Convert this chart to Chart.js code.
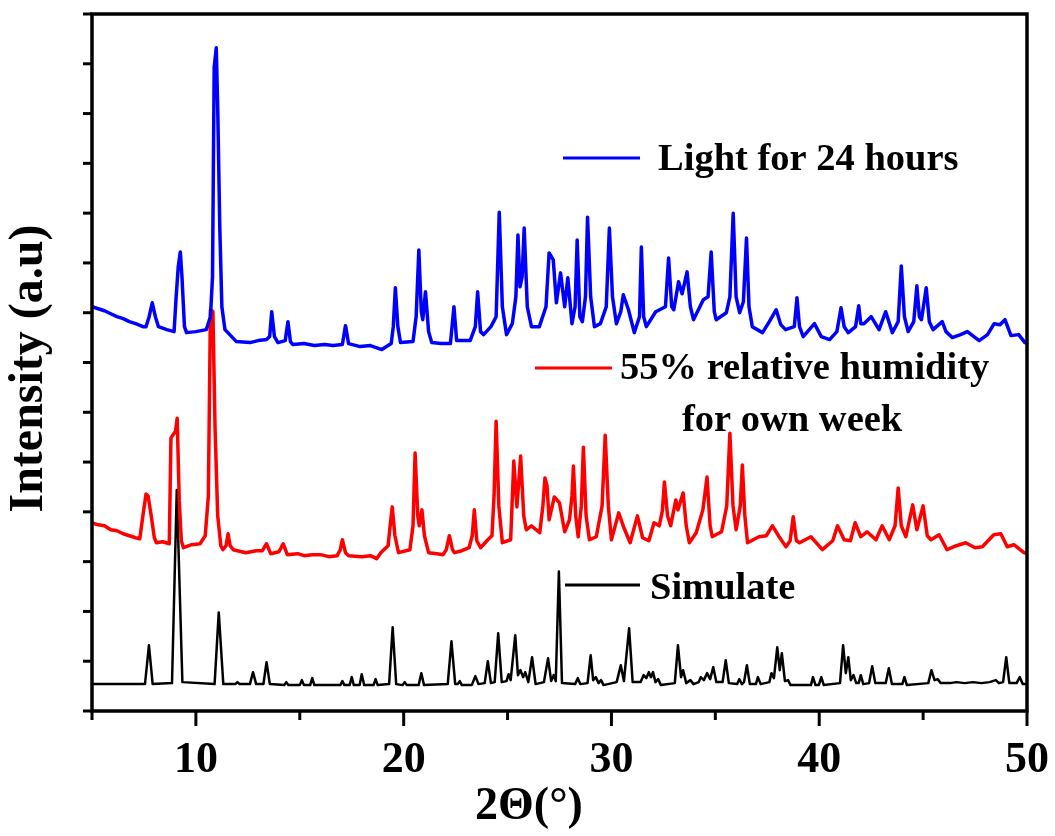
<!DOCTYPE html>
<html>
<head>
<meta charset="utf-8">
<script src="https://cdn.jsdelivr.net/npm/chart.js@4/dist/chart.umd.min.js"></script>
<style>
  html, body { margin: 0; padding: 0; background: #fff; }
  #wrap { width: 1055px; height: 836px; }
</style>
</head>
<body>
<div id="wrap"><canvas id="xrd"></canvas></div>
<script>
(function () {
    'use strict';

    // x range and tick marks (2-theta, degrees)
    const xRange = [5, 50];
    const xTickLabels = [10, 20, 30, 40, 50];

    // Simulated pattern (black), offset 0
    const simX = [5, 7.55, 7.74, 7.92, 8.85, 9.08, 9.35, 10.9, 11.1, 11.32, 11.9, 12.0, 12.1, 12.6, 12.75, 12.9,
        13.25, 13.4, 13.56, 14.25, 14.35, 14.45, 15.0, 15.1, 15.2, 15.5, 15.6, 15.7, 16.95, 17.05, 17.15,
        17.4, 17.5, 17.6, 17.88, 17.98, 18.1, 18.55, 18.65, 18.75, 19.3, 19.47, 19.64, 19.95, 20.05, 20.15,
        20.72, 20.85, 20.98, 22.12, 22.3, 22.48, 22.6, 22.7, 22.8, 23.28, 23.45, 23.6, 23.9, 24.05, 24.2,
        24.38, 24.55, 24.72, 24.95, 25.05, 25.15, 25.37, 25.5, 25.62, 25.75, 25.85, 26.0, 26.18, 26.35,
        26.75, 26.95, 27.1, 27.22, 27.32, 27.47, 27.62, 28.25, 28.38, 28.5, 28.85, 29.0, 29.12, 29.25,
        29.38, 29.5, 29.62, 30.25, 30.45, 30.6, 30.85, 31.02, 31.4, 31.55, 31.68, 31.8, 31.9, 32.0, 32.12,
        32.25, 32.38, 33.05, 33.2, 33.35, 33.45, 33.6, 33.8, 33.95, 34.2, 34.3, 34.45, 34.6, 34.75, 34.9,
        35.05, 35.35, 35.5, 35.65, 36.05, 36.15, 36.28, 36.38, 36.52, 36.66, 36.95, 37.05, 37.18, 37.6,
        37.7, 37.82, 37.98, 38.1, 38.2, 38.35, 38.5, 38.62, 39.6, 39.7, 39.82, 39.98, 40.1, 40.22, 41.0,
        41.15, 41.28, 41.4, 41.52, 41.65, 41.78, 41.9, 42.0, 42.12, 42.4, 42.55, 42.7, 43.2, 43.35, 43.5,
        44.0, 44.1, 44.22, 45.25, 45.4, 45.55, 45.7, 45.85, 46.3, 46.6, 47.0, 47.4, 47.8, 48.2, 48.5,
        48.65, 48.85, 49.0, 49.15, 49.5, 49.65, 49.8, 50];
    const simY = [0.01, 0.01, 0.4, 0.01, 0.02, 1.96, 0.03, 0.01, 0.73, 0.01, 0.01, 0.03, 0.01, 0.01, 0.13, 0.01,
        0.01, 0.23, 0.01, 0, 0.03, 0, 0, 0.05, 0, 0, 0.07, 0, 0, 0.04, 0,
        0, 0.08, 0, 0, 0.11, 0, 0, 0.06, 0, 0.01, 0.58, 0.01, 0, 0.03, 0,
        0, 0.12, 0, 0.01, 0.44, 0.01, 0.01, 0.04, 0, 0, 0.09, 0.01, 0.02, 0.24, 0.02,
        0.03, 0.52, 0.03, 0.04, 0.11, 0.05, 0.5, 0.1, 0.15, 0.08, 0.13, 0.03, 0.28, 0.01,
        0.03, 0.27, 0.04, 0.1, 0.04, 1.14, 0.02, 0.01, 0.07, 0.01, 0.02, 0.3, 0.05, 0.08,
        0.02, 0.05, 0, 0.03, 0.2, 0.04, 0.57, 0.03, 0.03, 0.1, 0.07, 0.13, 0.08, 0.13, 0.03,
        0.06, 0, 0.02, 0.4, 0.08, 0.15, 0.02, 0.05, 0.01, 0.03, 0.08, 0.05, 0.12, 0.06, 0.18,
        0.03, 0.03, 0.25, 0.02, 0.01, 0.06, 0.01, 0.03, 0.2, 0.01, 0.01, 0.08, 0.01, 0.03,
        0.12, 0.07, 0.38, 0.15, 0.32, 0.04, 0.05, 0, 0, 0.08, 0, 0, 0.08, 0, 0.02,
        0.4, 0.12, 0.28, 0.05, 0.1, 0.02, 0.02, 0.1, 0.01, 0.02, 0.19, 0.02, 0.02, 0.17, 0.01,
        0.01, 0.08, 0, 0.02, 0.15, 0.05, 0.06, 0.02, 0.02, 0.03, 0.02, 0.03, 0.02, 0.03, 0.05,
        0.02, 0.03, 0.28, 0.02, 0.02, 0.08, 0.01, 0.01];

    // 55% relative humidity for one week (red)
    const humX = [5, 5.3, 5.6, 5.9, 6.2, 6.5, 6.8, 7.1, 7.3, 7.45, 7.6, 7.7, 7.85, 8.0, 8.1, 8.4, 8.72, 8.8,
        8.92, 9.02, 9.1, 9.2, 9.3, 9.4, 9.8, 10.2, 10.45, 10.6, 10.7, 10.82, 10.92, 11.05, 11.2, 11.3,
        11.45, 11.55, 11.65, 11.8, 12.4, 12.9, 13.2, 13.4, 13.6, 14.0, 14.2, 14.4, 14.9, 15.2, 15.6, 16.0,
        16.4, 16.8, 16.95, 17.05, 17.2, 17.35, 18.0, 18.4, 18.7, 18.9, 19.25, 19.35, 19.45, 19.58, 19.75,
        20.3, 20.45, 20.55, 20.68, 20.75, 20.88, 21.0, 21.2, 21.6, 21.9, 22.05, 22.2, 22.35, 22.45, 22.8,
        23.15, 23.3, 23.4, 23.52, 23.7, 24.05, 24.25, 24.35, 24.45, 24.58, 24.75, 25.15, 25.3, 25.45,
        25.63, 25.78, 25.9, 26.15, 26.55, 26.7, 26.8, 26.9, 27.0, 27.25, 27.5, 27.75, 27.98, 28.1, 28.17,
        28.28, 28.4, 28.55, 28.65, 28.78, 28.94, 29.27, 29.55, 29.7, 29.85, 30.0, 30.35, 30.6, 30.9,
        31.25, 31.5, 31.8, 32.05, 32.3, 32.45, 32.55, 32.7, 32.85, 33.1, 33.2, 33.45, 33.6, 33.75, 34.08,
        34.4, 34.6, 34.75, 34.85, 35.3, 35.55, 35.7, 35.85, 36.0, 36.2, 36.3, 36.42, 36.55, 37.1, 37.45,
        37.75, 38.07, 38.4, 38.6, 38.75, 38.9, 39.05, 39.6, 40.15, 40.65, 40.88, 41.2, 41.5, 41.73, 42.0,
        42.3, 42.73, 43.03, 43.37, 43.65, 43.8, 43.95, 44.17, 44.5, 44.7, 45.0, 45.2, 45.38, 45.77, 46.15,
        46.6, 47.05, 47.5, 47.85, 48.4, 48.74, 49.05, 49.37, 49.85, 50];
    const humY = [1.63, 1.61, 1.6, 1.56, 1.55, 1.52, 1.5, 1.48, 1.47, 1.7, 1.92, 1.9, 1.7, 1.48, 1.43, 1.44, 1.42, 2.48,
        2.52, 2.55, 2.68, 1.85, 1.45, 1.38, 1.41, 1.42, 1.5, 1.9, 3.77, 3.75, 2.6, 1.7, 1.4, 1.36,
        1.4, 1.52, 1.4, 1.36, 1.33, 1.35, 1.35, 1.42, 1.32, 1.34, 1.42, 1.31, 1.32, 1.3, 1.31, 1.31,
        1.29, 1.3, 1.36, 1.46, 1.33, 1.3, 1.29, 1.3, 1.27, 1.33, 1.4, 1.6, 1.79, 1.5, 1.33,
        1.36, 1.6, 2.33, 1.7, 1.6, 1.76, 1.5, 1.33, 1.32, 1.31, 1.36, 1.5, 1.36, 1.33, 1.35,
        1.38, 1.5, 1.76, 1.45, 1.38, 1.46, 1.5, 1.9, 2.65, 1.8, 1.43, 1.46, 2.25, 1.79,
        2.3, 1.7, 1.56, 1.6, 1.53, 1.8, 2.08, 2.0, 1.66, 1.89, 1.83, 1.54, 1.66, 1.9, 2.2,
        1.7, 1.49, 1.8, 2.39, 1.7, 1.46, 1.49, 1.8, 2.51, 1.8, 1.46, 1.73, 1.58, 1.43,
        1.7, 1.48, 1.45, 1.63, 1.6, 1.75, 2.04, 1.7, 1.6, 1.86, 1.76, 1.93, 1.6, 1.43, 1.53,
        1.76, 2.09, 1.6, 1.49, 1.54, 1.8, 2.53, 1.8, 1.56, 1.8, 2.21, 1.7, 1.43, 1.49, 1.5,
        1.6, 1.49, 1.39, 1.45, 1.69, 1.45, 1.43, 1.49, 1.36, 1.45, 1.6, 1.46, 1.45, 1.63, 1.49,
        1.54, 1.46, 1.6, 1.46, 1.6, 1.98, 1.6, 1.49, 1.81, 1.56, 1.8, 1.5, 1.46, 1.51, 1.36,
        1.4, 1.43, 1.38, 1.39, 1.51, 1.52, 1.39, 1.41, 1.33, 1.32];

    // Light for 24 hours (blue)
    const lightX = [5, 5.3, 5.6, 5.9, 6.2, 6.5, 6.8, 7.1, 7.45, 7.6, 7.75, 7.9, 8.05, 8.2, 8.6, 8.95, 9.05, 9.15,
        9.25, 9.33, 9.45, 9.55, 10.0, 10.5, 10.7, 10.8, 10.88, 10.98, 11.05, 11.15, 11.25, 11.4, 11.95,
        12.6, 13.0, 13.4, 13.55, 13.65, 13.78, 13.95, 14.3, 14.43, 14.55, 14.67, 15.2, 15.7, 16.2, 16.6,
        17.05, 17.2, 17.35, 17.9, 18.4, 18.95, 19.4, 19.5, 19.6, 19.72, 19.85, 20.45, 20.6, 20.73, 20.85,
        20.92, 21.05, 21.2, 21.35, 21.8, 22.25, 22.42, 22.55, 23.2, 23.45, 23.56, 23.7, 23.85, 24.2, 24.45,
        24.6, 24.75, 24.95, 25.23, 25.4, 25.5, 25.6, 25.7, 25.8, 25.95, 26.15, 26.53, 26.85, 27.0, 27.2,
        27.35, 27.55, 27.75, 27.9, 28.1, 28.25, 28.35, 28.48, 28.6, 28.75, 28.85, 29.0, 29.18, 29.47,
        29.75, 29.9, 30.05, 30.24, 30.45, 30.57, 30.82, 31.1, 31.35, 31.44, 31.55, 31.68, 32.13, 32.32,
        32.6, 32.75, 32.9, 33.0, 33.23, 33.4, 33.64, 33.8, 33.95, 34.42, 34.65, 34.8, 34.95, 35.04, 35.53,
        35.7, 35.86, 36.0, 36.17, 36.35, 36.5, 36.62, 36.78, 37.27, 37.6, 37.93, 38.15, 38.38, 38.8,
        38.93, 39.05, 39.23, 39.77, 40.1, 40.5, 40.85, 41.05, 41.2, 41.4, 41.75, 41.9, 42.0, 42.15, 42.5,
        42.88, 43.2, 43.52, 43.8, 43.95, 44.1, 44.28, 44.55, 44.7, 44.82, 44.92, 45.15, 45.3, 45.48,
        45.92, 46.1, 46.4, 46.8, 47.13, 47.7, 48.1, 48.42, 48.7, 48.94, 49.23, 49.6, 49.9, 50];
    const lightY = [3.8, 3.78, 3.76, 3.73, 3.7, 3.68, 3.65, 3.63, 3.6, 3.6, 3.7, 3.84, 3.7, 3.6, 3.57, 3.55, 3.9, 4.2,
        4.35, 4.1, 3.6, 3.54, 3.55, 3.57, 3.7, 4.1, 6.2, 6.4, 5.8, 4.6, 3.8, 3.57, 3.45,
        3.44, 3.46, 3.47, 3.5, 3.75, 3.5, 3.44, 3.46, 3.65, 3.45, 3.42, 3.43, 3.41, 3.42, 3.41,
        3.42, 3.61, 3.43, 3.4, 3.41, 3.37, 3.43, 3.6, 3.99, 3.6, 3.44, 3.45, 3.7, 4.37, 3.75,
        3.67, 3.95, 3.55, 3.44, 3.43, 3.43, 3.8, 3.46, 3.46, 3.6, 3.95, 3.55, 3.52, 3.6, 3.7,
        4.75, 3.8, 3.52, 3.63, 3.9, 4.52, 4.0, 4.1, 4.59, 3.8, 3.6, 3.6, 3.8, 4.34, 4.27,
        3.84, 4.14, 3.8, 4.09, 3.63, 3.8, 4.47, 3.7, 3.65, 3.9, 4.7, 3.9, 3.6, 3.63,
        3.8, 4.59, 3.9, 3.63, 3.75, 3.92, 3.77, 3.54, 3.7, 4.4, 3.7, 3.6, 3.75, 3.77,
        3.8, 4.29, 3.8, 3.77, 4.05, 3.93, 4.15, 3.8, 3.67, 3.87, 3.9, 4.35, 3.75, 3.67, 3.74,
        3.9, 4.74, 3.9, 3.74, 3.85, 4.49, 3.8, 3.6, 3.54, 3.65, 3.77, 3.62, 3.57, 3.6,
        3.89, 3.6, 3.5, 3.63, 3.5, 3.47, 3.55, 3.79, 3.6, 3.54, 3.6, 3.81, 3.63, 3.63, 3.7,
        3.57, 3.75, 3.54, 3.65, 4.21, 3.7, 3.55, 3.65, 4.01, 3.7, 3.67, 3.99, 3.65, 3.57,
        3.65, 3.55, 3.49, 3.52, 3.55, 3.46, 3.52, 3.63, 3.62, 3.67, 3.51, 3.52, 3.44, 3.44];

    const FONT = "'Times New Roman', 'Liberation Serif', serif";

    function toPoints(xs, ys) {
        return xs.map((x, i) => ({ x: x, y: ys[i] }));
    }

    /**
     * Frame, tick marks, in-plot labels and the x title
     */
    const decorPlugin = {
        id: 'decor',
        afterDatasetsDraw(chart) {
            const ctx = chart.ctx;
            const area = chart.chartArea;
            const xs = chart.scales.x;
            const ys = chart.scales.y;

            ctx.save();
            ctx.strokeStyle = '#000';
            ctx.lineCap = 'butt';

            // ticks on the bottom axis, pointing down
            ctx.lineWidth = 3;
            for (let v = xRange[0]; v <= xRange[1]; v += 5) {
                const px = xs.getPixelForValue(v);
                const len = v % 10 === 0 ? 15 : 9;
                ctx.beginPath();
                ctx.moveTo(px, area.bottom);
                ctx.lineTo(px, area.bottom + len);
                ctx.stroke();
            }
            // ticks on the left axis, pointing left
            ys.ticks.forEach(t => {
                const py = ys.getPixelForValue(t.value);
                const len = Math.abs(t.value % 1) < 1e-6 ? 15 : 9;
                ctx.beginPath();
                ctx.moveTo(area.left, py);
                ctx.lineTo(area.left - len, py);
                ctx.stroke();
            });

            // box
            ctx.lineWidth = 3.5;
            ctx.strokeRect(area.left, area.top, area.right - area.left, area.bottom - area.top);

            // in-plot labels
            const labels = [
                { color: '#0000ff', x0: 563, x1: 640, y: 158, tx: 658, text: 'Light for 24 hours', ty: 160 },
                { color: '#ff0000', x0: 535, x1: 612, y: 368, tx: 620, text: '55% relative humidity', ty: 369 },
                { color: null, tx: 682, text: 'for own week', ty: 421 },
                { color: '#000000', x0: 565, x1: 640, y: 585, tx: 650, text: 'Simulate', ty: 589 }
            ];
            ctx.font = 'bold 38.5px ' + FONT;
            ctx.textBaseline = 'middle';
            ctx.textAlign = 'left';
            labels.forEach(l => {
                if (l.color) {
                    ctx.strokeStyle = l.color;
                    ctx.lineWidth = 3;
                    ctx.beginPath();
                    ctx.moveTo(l.x0, l.y);
                    ctx.lineTo(l.x1, l.y);
                    ctx.stroke();
                }
                ctx.fillStyle = '#000';
                ctx.fillText(l.text, l.tx, l.ty);
            });

            // x title
            ctx.font = 'bold 46px ' + FONT;
            ctx.textAlign = 'center';
            ctx.fillText('2\u0398(\u00b0)', 529, 807);
            ctx.restore();
        }
    };

    function init() {
        const canvas = document.getElementById('xrd');
        canvas.width = 1055;
        canvas.height = 836;

        new Chart(canvas, {
            type: 'line',
            data: {
                datasets: [
                    { label: 'Light for 24 hours', data: toPoints(lightX, lightY), borderColor: '#0000ff', borderWidth: 3.5 },
                    { label: '55% relative humidity for own week', data: toPoints(humX, humY), borderColor: '#ff0000', borderWidth: 3.5 },
                    { label: 'Simulate', data: toPoints(simX, simY), borderColor: '#000000', borderWidth: 2.5 }
                ]
            },
            options: {
                responsive: false,
                animation: false,
                devicePixelRatio: 1,
                layout: { padding: { left: 0, top: 14, right: 28, bottom: 0 } },
                elements: {
                    point: { radius: 0 },
                    line: { tension: 0, borderJoinStyle: 'round', borderCapStyle: 'round' }
                },
                plugins: {
                    legend: { display: false },
                    tooltip: { enabled: false }
                },
                scales: {
                    x: {
                        type: 'linear',
                        min: xRange[0],
                        max: xRange[1],
                        grid: { display: false, drawTicks: false },
                        border: { display: false },
                        ticks: {
                            stepSize: 5,
                            autoSkip: false,
                            maxRotation: 0,
                            padding: 23,
                            color: '#000',
                            font: { family: FONT, size: 44, weight: 'bold' },
                            callback: v => xTickLabels.includes(v) ? String(v) : ''
                        },
                        afterFit: s => {
                            s.height = 125;
                            s.paddingLeft = 0;
                            s.paddingRight = 0;
                        }
                    },
                    y: {
                        min: -0.26,
                        max: 6.74,
                        grid: { display: false, drawTicks: false },
                        border: { display: false },
                        ticks: { stepSize: 0.5, includeBounds: false, display: false },
                        title: {
                            display: true,
                            text: 'Intensity (a.u) ',
                            color: '#000',
                            padding: { top: 1, bottom: 0 },
                            font: { family: FONT, size: 48, weight: 'bold' }
                        },
                        afterFit: s => { s.width = 92; }
                    }
                }
            },
            plugins: [decorPlugin]
        });
    }

    init();
})();
</script>
</body>
</html>
